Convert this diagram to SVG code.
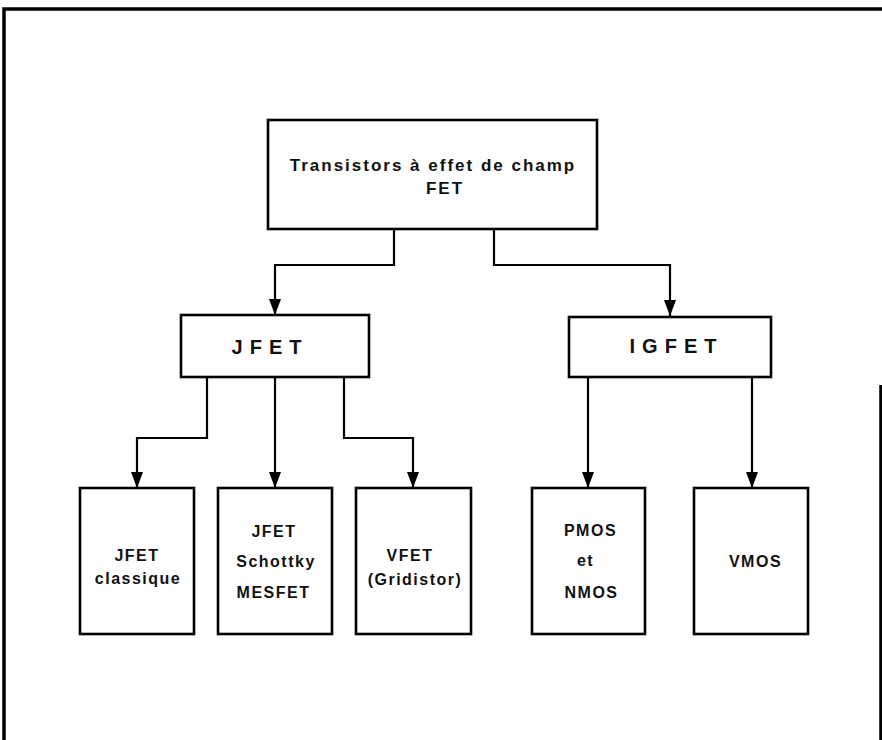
<svg xmlns="http://www.w3.org/2000/svg" width="882" height="740" viewBox="0 0 882 740">
<defs>
<marker id="arr" viewBox="0 0 16 12" refX="16" refY="6" markerWidth="16" markerHeight="12" markerUnits="userSpaceOnUse" orient="auto">
<path d="M0,0 L16,6 L0,12 Z" fill="#000"/>
</marker>
<style>
.box{fill:#fff;stroke:#000;stroke-width:2.6}
.con{fill:none;stroke:#000;stroke-width:2.2;marker-end:url(#arr)}
.frame{fill:none;stroke:#000;stroke-width:3.5}
text{font-family:"Liberation Sans","DejaVu Sans",sans-serif;font-weight:bold;fill:#111;text-anchor:middle}
.t1{font-size:17px;letter-spacing:2px}
.t2{font-size:20px;letter-spacing:7px}
.t3{font-size:16px;letter-spacing:1.5px}
</style>
</defs>
<rect width="882" height="740" fill="#fff"/>
<g id="frame">
<path class="frame" d="M4,745 L4,9 L882,9"/>
<path class="frame" d="M881,385 L881,745"/>
</g>
<g id="connectors">
<path class="con" d="M394,229 L394,265 L275,265 L275,315"/>
<path class="con" d="M494,229 L494,265 L670,265 L670,316"/>
<path class="con" d="M207,377 L207,438 L137,438 L137,488"/>
<path class="con" d="M275,377 L275,488"/>
<path class="con" d="M344,377 L344,438 L413,438 L413,488"/>
<path class="con" d="M588,377 L588,488"/>
<path class="con" d="M752,377 L752,488"/>
</g>
<g id="fet">
<rect class="box" x="268" y="120" width="329" height="109"/>
<text class="t1" x="433" y="171">Transistors à effet de champ</text>
<text class="t1" x="445" y="194">FET</text>
</g>
<g id="jfet">
<rect class="box" x="181" y="315" width="188" height="62"/>
<text class="t2" x="270" y="354">JFET</text>
</g>
<g id="igfet">
<rect class="box" x="569" y="317" width="202" height="60"/>
<text class="t2" x="676.5" y="353">IGFET</text>
</g>
<g id="jfet-classique">
<rect class="box" x="80" y="488" width="114" height="146"/>
<text class="t3" x="137" y="561">JFET</text>
<text class="t3" x="138" y="584">classique</text>
</g>
<g id="jfet-schottky">
<rect class="box" x="218" y="488" width="114" height="146"/>
<text class="t3" x="274" y="537">JFET</text>
<text class="t3" x="276" y="567">Schottky</text>
<text class="t3" x="273.5" y="598">MESFET</text>
</g>
<g id="vfet">
<rect class="box" x="356" y="488" width="115" height="146"/>
<text class="t3" x="410" y="561">VFET</text>
<text class="t3" x="415" y="585">(Gridistor)</text>
</g>
<g id="pmos-nmos">
<rect class="box" x="532" y="488" width="113" height="146"/>
<text class="t3" x="590.5" y="536">PMOS</text>
<text class="t3" x="585.5" y="566">et</text>
<text class="t3" x="591.5" y="598">NMOS</text>
</g>
<g id="vmos">
<rect class="box" x="694" y="488" width="114" height="146"/>
<text class="t3" x="755.5" y="567">VMOS</text>
</g>
</svg>
